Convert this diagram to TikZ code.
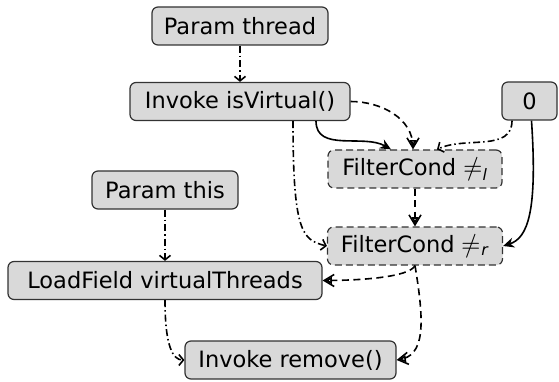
\documentclass[tikz,border=0pt]{standalone}
\usepackage{fontspec}
\setmainfont{DejaVu Sans}
\usetikzlibrary{arrows.meta}
\newcommand{\neqsign}{\raisebox{0pt}{\fontspec{Latin Modern Math}\fontsize{25}{27}\selectfont ≠}}
\begin{document}
\begin{tikzpicture}[x=1pt,y=1pt,
  box/.style={draw=black!80, fill=black!15, rounded corners=6pt, line width=1.2pt,
    minimum height=38pt, inner sep=0pt, font=\fontsize{22.5}{27}\selectfont},
  dbox/.style={box, dash pattern=on 7pt off 4pt},
  dataedge/.style={line width=1.6pt, dash pattern=on 7pt off 3pt on 1.5pt off 3pt,
    -{Straight Barb[length=4.5pt,width=11pt]}},
  ctrledge/.style={line width=1.6pt, dash pattern=on 7pt off 4.5pt,
    -{Triangle[open,length=7pt,width=7pt,sep=-10pt] Straight Barb[length=10pt,width=12pt]}},
  condedge/.style={line width=1.6pt, -{Stealth[length=11pt,width=10pt]}}
]
\useasboundingbox (0,0) rectangle (559,-382);

% nodes
\node[box, minimum width=176pt] (pt) at (240,-26) {Param thread};
\node[box, minimum width=220pt] (iv) at (240,-101.5) {Invoke isVirtual()};
\node[box, minimum width=55pt] (zero) at (529.5,-101) {0};
\node[dbox, minimum width=174pt] (fl) at (415,-169) {FilterCond \neqsign\textsubscript{\textit{l}}};
\node[box, minimum width=146pt] (pthis) at (165,-190) {Param this};
\node[dbox, minimum width=175pt] (fr) at (415,-246) {FilterCond \neqsign\textsubscript{\textit{r}}};
\node[box, minimum width=314pt] (lf) at (165,-280.5) {LoadField virtualThreads};
\node[box, minimum width=211pt] (ir) at (290.5,-360) {Invoke remove()};

% edges
\draw[dataedge] (pt) -- (iv);
\draw[ctrledge] (iv.east) to[out=0,in=90] ([xshift=-2pt]fl.north);
\draw[condedge] ([xshift=76pt]iv.south) to[out=-90,in=150] ([xshift=-24pt]fl.north);
\draw[dataedge] ([xshift=-17.5pt]zero.south) to[out=-90,in=25] ([xshift=22pt]fl.north);
\draw[condedge] ([xshift=2pt]zero.south) .. controls +(6,-90) and +(25,8) .. (fr.east);
\draw[dataedge] ([xshift=53pt]iv.south) .. controls +(0,-110) and +(-25,6) .. (fr.west);
\draw[ctrledge] (fl) -- (fr);
\draw[ctrledge] (fr.south) .. controls +(-6,-12) and +(35,0) .. (lf.east);
\draw[dataedge] (pthis) -- (lf);
\draw[dataedge] (lf.south) .. controls +(0,-45) and +(-12,0) .. (ir.west);
\draw[ctrledge] (fr.south) .. controls +(10,-60) and +(28,4) .. (ir.east);
\end{tikzpicture}
\end{document}
